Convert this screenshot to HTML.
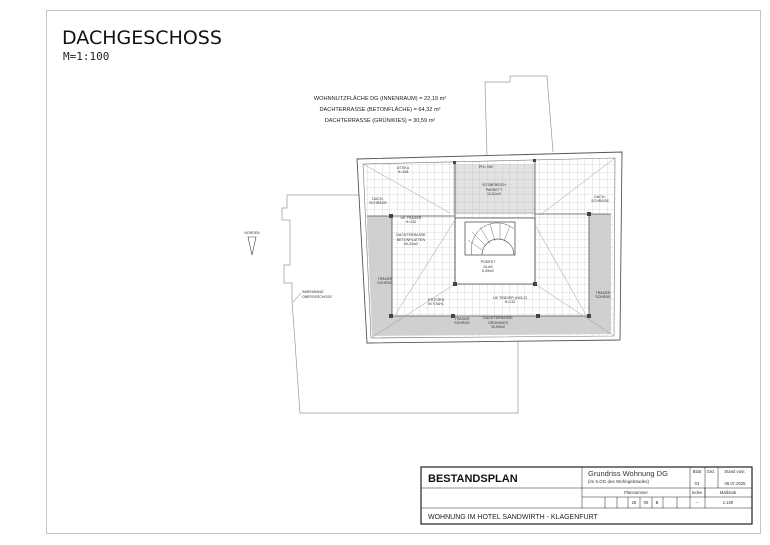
<!DOCTYPE html>
<html><head><meta charset="utf-8"><style>
html,body{margin:0;padding:0;background:#fff;}
svg{display:block;font-family:"Liberation Sans",sans-serif;}
</style></head><body>
<svg width="770" height="545" viewBox="0 0 770 545" xmlns="http://www.w3.org/2000/svg">
<defs>
<pattern id="g" width="7.5" height="7.5" patternUnits="userSpaceOnUse">
<path d="M7.5 0V7.5M0 7.5H7.5" stroke="#bcbcbc" stroke-width="0.55" fill="none"/>
</pattern>
</defs>
<rect width="770" height="545" fill="#fff"/>
<rect x="46.5" y="10.5" width="714" height="523" fill="none" stroke="#c4c4c4" stroke-width="1"/>
<text x="62" y="44" font-size="19" fill="#111" font-family="DejaVu Sans, sans-serif">DACHGESCHOSS</text>
<text x="63" y="60" font-size="11" fill="#222" font-family="DejaVu Sans Mono, monospace">M=1:100</text>

<g font-size="5.6" fill="#222" text-anchor="middle">
<text x="380" y="100">WOHNNUTZFLÄCHE DG (INNENRAUM) = 22,19 m²</text>
<text x="380" y="111">DACHTERRASSE (BETONFLÄCHE) = 64,32 m²</text>
<text x="380" y="122">DACHTERRASSE (GRÜN/KIES) = 30,59 m²</text>
</g>

<g fill="none" stroke="#999" stroke-width="0.7">
<path d="M367 195 H287 V208 H282 V220 H290 V265 H284 V283 H292 V300 L300 413 H518 V338"/>
<path d="M487 158 L485 82 H510 V76 H547 L553 152"/>
</g>
<text x="252" y="234" font-size="3.5" fill="#333" text-anchor="middle">NORDEN</text>
<path d="M248 237 H256 L252 255 Z" fill="none" stroke="#444" stroke-width="0.6"/>
<text x="302" y="293" font-size="3.5" fill="#333">INNENWAND</text>
<text x="302" y="298" font-size="3.5" fill="#333">OBERGESCHOSS</text>
<line x1="293" y1="302" x2="301" y2="293" stroke="#666" stroke-width="0.5"/>

<path d="M357 159 L622 152 L620 340 L367 343 Z" fill="#fff" stroke="#555" stroke-width="0.9"/>
<path d="M363 164 L615 158 L614 336 L371 338 Z" fill="url(#g)" stroke="#777" stroke-width="0.6"/>
<g fill="#d0d0d0">
<path d="M367 216 H392 V316 H589 V214 H611 V334 L372 336 Z"/>
</g>
<rect x="453" y="164" width="82" height="50" fill="#e2e2e2"/>
<rect x="453" y="164" width="82" height="50" fill="url(#g)"/>
<g fill="none" stroke="#555" stroke-width="0.8">
<path d="M392 216 V316 H589 V214"/>
<rect x="455" y="218" width="80" height="66" fill="#fff"/>
<rect x="465" y="222" width="50" height="33"/>
<path d="M455 164 V284 M535 161 V284"/>
<path d="M367 216 H455 M535 214 H611"/>
<path d="M482 255 A16 16 0 0 1 514 255" stroke-width="0.7"/>
<path d="M472 255 A26 26 0 0 1 514 229" stroke-width="0.5"/>
<path d="M468 240 L482 250 M472 232 L486 246 M480 227 L490 244 M490 224 L495 241 M500 224 L500 240 M510 226 L504 241" stroke-width="0.4"/>
</g>
<g stroke="#999" stroke-width="0.5" fill="none">
<path d="M363 164 L450 213 M615 158 L540 215 M371 338 L455 284 M614 336 L535 284"/>
<path d="M395 315 L455 220 M586 315 L535 225 M455 213 L535 213"/>
</g>
<g fill="#444">
<rect x="389" y="214" width="4" height="4"/><rect x="587" y="212" width="4" height="4"/>
<rect x="389" y="314" width="4" height="4"/><rect x="587" y="314" width="4" height="4"/>
<rect x="451" y="314" width="4" height="4"/><rect x="536" y="314" width="4" height="4"/>
<rect x="453" y="282" width="4" height="4"/><rect x="533" y="282" width="4" height="4"/>
<rect x="453" y="161" width="3" height="3"/><rect x="533" y="159" width="3" height="3"/>
</g>
<g font-size="3.6" fill="#333" text-anchor="middle">
<text x="494" y="186">SITZBEREICH</text><text x="494" y="191">PARKETT</text><text x="494" y="195">12,61m2</text>
<text x="411" y="236">DACHTERRASSE</text><text x="411" y="241">BETONPLATTEN</text><text x="411" y="245">64,32m2</text>
<text x="488" y="263">PODEST</text><text x="488" y="268">GLAS</text><text x="488" y="272">6,59m2</text>
<text x="498" y="319">DACHTERRASSE</text><text x="498" y="324">GRÜN/KIES</text><text x="498" y="328">30,59m2</text>
<text x="411" y="219">UK TRÄGER</text><text x="411" y="223">H=232</text>
<text x="510" y="299">UK TRÄGER (HOLZ)</text><text x="510" y="303">H=232</text>
<text x="436" y="301">STÜTZEN</text><text x="436" y="305">IN STAHL</text>
<text x="462" y="320">TRÄGER</text><text x="462" y="324">SCHRÄG</text>
<text x="385" y="280">TRÄGER</text><text x="385" y="284">SCHRÄG</text>
<text x="603" y="294">TRÄGER</text><text x="603" y="298">SCHRÄG</text>
<text x="378" y="200">DACH-</text><text x="378" y="204">SCHRÄGE</text>
<text x="600" y="198">DACH-</text><text x="600" y="202">SCHRÄGE</text>
<text x="403" y="169">ATTIKA</text><text x="403" y="173">H=108</text>
<text x="486" y="168">PH= 0/6*</text>
</g>
<g fill="none" stroke="#222">
<rect x="421" y="467" width="331" height="57" stroke-width="1.2"/>
<path d="M421 488 H582 M421 508 H752 M582 467 V508 M690 467 V508 M705 467 V497 M718 467 V488 M582 488 H752 M582 497 H752 M605 497 V508 M617 497 V508 M628 497 V508 M640 497 V508 M652 497 V508 M663 497 V508 M677 497 V508 M705 488 V508" stroke-width="0.5"/>
</g>
<text x="428" y="482" font-size="11" font-weight="bold" fill="#111">BESTANDSPLAN</text>
<text x="588" y="476" font-size="7.5" fill="#333">Grundriss Wohnung DG</text>
<text x="588" y="483" font-size="4.5" fill="#333">(im 5.OG des Wohngebäudes)</text>
<g font-size="4.2" fill="#333" text-anchor="middle">
<text x="697" y="473">Blatt</text><text x="711" y="473">Gez.</text><text x="735" y="473">Stand vom:</text>
<text x="697" y="485">03</text><text x="735" y="485">06.07.2025</text>
<text x="636" y="494">Plannummer</text><text x="697" y="494">Index</text><text x="728" y="494">Maßstab</text>
<text x="634" y="504">25</text><text x="646" y="504">06</text><text x="657" y="504">B</text>
<text x="697" y="504">--</text><text x="728" y="504">1:100</text>
</g>
<text x="428" y="519" font-size="7" fill="#222">WOHNUNG IM HOTEL SANDWIRTH - KLAGENFURT</text>
</svg>
</body></html>
